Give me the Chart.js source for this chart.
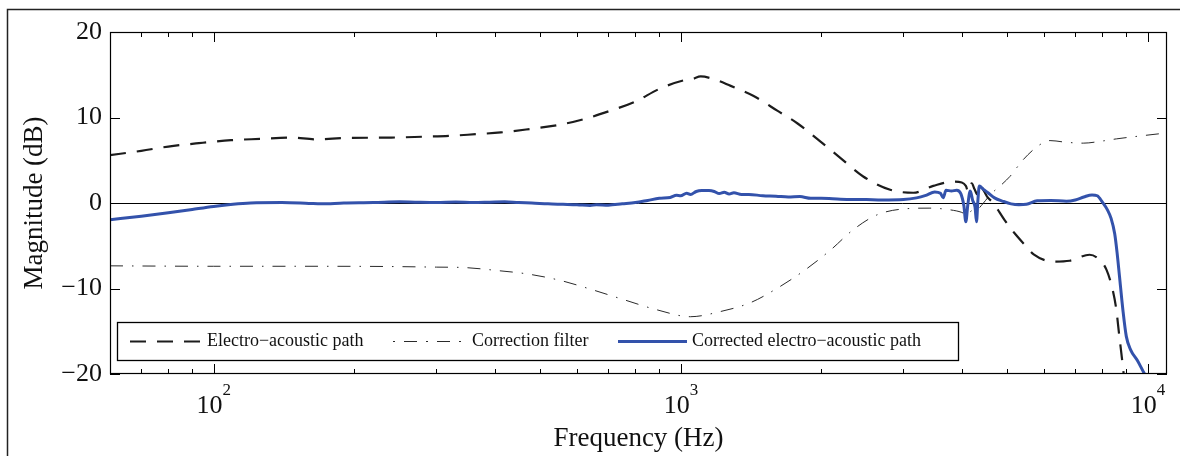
<!DOCTYPE html>
<html><head><meta charset="utf-8">
<script src="https://cdn.jsdelivr.net/npm/chart.js@4/dist/chart.umd.min.js"></script>
<style>html,body{margin:0;padding:0;background:#fff;}#wrap{width:1180px;height:456px;}</style>
</head><body><div id="wrap"><canvas id="c" width="1180" height="456"></canvas></div>
<script>
// ---- data ----
const freqEA = [60,70,80,93,109,126,147,165,192,240,280,320,364,412,475,545,620,708,795,905,1016,1060,1104,1160,1280,1430,1610,1780,1990,2200,2460,2810,3150,3475,3830,4000,4080,4130,4200,4260,4320,4370,4450,4530,4670,4940,5200,5500,5700,6270,6810,7510,7890,8160,8420,8570,8680,8780,8880,9000,9200];
const magEA  = [5.6,6.1,6.6,7.0,7.35,7.5,7.65,7.45,7.6,7.65,7.75,7.85,8.05,8.25,8.65,9.1,9.8,10.8,11.8,13.4,14.35,14.5,14.8,14.6,13.7,12.55,10.8,9.3,7.2,5.25,3.1,1.55,1.2,2.0,2.5,2.4,2.0,1.3,2.3,1.6,1.0,2.1,1.5,0.75,0.0,-2.0,-3.6,-5.1,-6.0,-6.85,-6.75,-6.05,-6.65,-7.8,-10.2,-12.5,-15.2,-17.5,-19.9,-23,-27];

const freqCF = [60,100,150,238,300,344,405,470,554,652,755,891,1050,1216,1412,1610,1850,2094,2345,2630,2995,3418,3775,4000,4100,4200,4305,4450,4600,4900,5070,5410,5870,6180,6700,7280,8000,8570,9500,11000];
const magCF  = [-7.35,-7.4,-7.4,-7.43,-7.5,-7.55,-7.9,-8.3,-9.07,-10.2,-11.3,-12.5,-13.3,-12.7,-11.65,-9.97,-7.8,-5.5,-3.1,-1.4,-0.7,-0.6,-0.8,-1.1,-1.4,-0.9,-0.8,0.0,0.95,2.3,3.1,5.05,6.8,7.3,7.1,7.0,7.25,7.5,7.8,8.2];

const freqCorr = [60,70,80,90,100,110,120,140,160,170,190,220,250,270,300,330,360,390,420,450,480,520,560,600,640,660,700,750,800,850,900,950,980,1000,1030,1050,1080,1110,1150,1180,1210,1240,1270,1300,1350,1400,1500,1600,1700,1800,1900,2000,2200,2500,2700,3000,3200,3350,3500,3600,3650,3700,3800,3900,3980,4040,4080,4120,4170,4220,4270,4300,4330,4360,4450,4550,4700,4900,5100,5300,5500,5800,6200,6700,7000,7300,7600,7800,8000,8200,8350,8500,8600,8700,8850,9000,9200,9500,9850,10100];
const magCorr  = [-1.95,-1.55,-1.15,-0.75,-0.4,-0.15,0.0,0.05,-0.05,-0.1,0.0,0.05,0.15,0.1,0.05,0.12,0.05,0.1,0.15,0.05,0.0,-0.1,-0.15,-0.2,-0.3,-0.2,-0.25,-0.1,0.05,0.3,0.55,0.65,0.9,0.85,1.15,1.0,1.35,1.45,1.45,1.35,1.1,1.25,1.05,1.2,1.0,1.0,0.85,0.8,0.7,0.75,0.55,0.55,0.45,0.4,0.35,0.4,0.6,0.9,1.3,1.15,0.6,1.5,1.4,1.5,1.1,-0.3,-2.2,-0.2,1.4,0.3,-0.5,-2.2,0.3,2.0,1.6,1.2,0.6,0.2,-0.1,-0.2,-0.15,0.25,0.3,0.2,0.35,0.7,0.95,0.85,0.1,-0.8,-1.8,-3.6,-5.8,-8.5,-12.5,-15.6,-17.2,-18.4,-20,-21];

const yTicks = [-20,-10,0,10,20];
const yTickLabels = ['\u221220','\u221210','0','10','20'];
const xMajorTicks = [100,1000,10000];
const xTickBase = ['10','10','10'];
const xTickExp = ['2','3','4'];
const seriesNames = ['Electro\u2212acoustic path','Correction filter','Corrected electro\u2212acoustic path'];
const xTitle = 'Frequency (Hz)';
const yTitle = 'Magnitude (dB)';

// ---- styles ----
const SERIF = "'Liberation Serif','Times New Roman',serif";
const colEA = '#1c1c1c', colCF = '#2a2a2a', colCorr = '#3352ab';
const dashEA = [16,11], dashCF = [13,9,1.5,9];

const toPts = (f,m) => f.map((x,i) => ({x:x, y:m[i]}));

const deco = {
  id:'deco',
  beforeDraw(chart){
    const c = chart.ctx; c.save();
    c.fillStyle='#fff'; c.fillRect(0,0,chart.width,chart.height);
    c.strokeStyle='#222'; c.lineWidth=1.5;
    c.beginPath(); c.moveTo(7.5,456); c.lineTo(7.5,9.5); c.lineTo(1180,9.5); c.stroke();
    c.restore();
  },
  beforeDatasetsDraw(chart){
    const c = chart.ctx, a = chart.chartArea, ys = chart.scales.y;
    c.save(); c.strokeStyle='#000'; c.lineWidth=1;
    const y0 = Math.round(ys.getPixelForValue(0))+0.5;
    c.beginPath(); c.moveTo(a.left,y0); c.lineTo(a.right,y0); c.stroke();
    c.restore();
  },
  afterDatasetsDraw(chart){
    const c = chart.ctx, a = chart.chartArea, xs = chart.scales.x, ys = chart.scales.y;
    c.save();
    c.strokeStyle='#000'; c.lineWidth=1.2;
    c.strokeRect(a.left+0.5, a.top+0.5, a.right-a.left-1, a.bottom-a.top-1);
    c.lineWidth=1;
    // x ticks
    const decades=[10,100,1000,10000];
    c.beginPath();
    decades.forEach(d=>{
      for(let k=1;k<=9;k++){
        const v=d*k; if(v<xs.min||v>xs.max) continue;
        const px=Math.round(xs.getPixelForValue(v))+0.5;
        const L = (k===1)?10:5;
        c.moveTo(px,a.bottom); c.lineTo(px,a.bottom-L);
        c.moveTo(px,a.top); c.lineTo(px,a.top+L);
      }
    });
    yTicks.forEach(v=>{
      const py=Math.round(ys.getPixelForValue(v))+0.5;
      c.moveTo(a.left,py); c.lineTo(a.left+10,py);
      c.moveTo(a.right,py); c.lineTo(a.right-10,py);
    });
    c.stroke();
    // labels
    c.fillStyle='#111';
    c.font='26px '+SERIF; c.textAlign='right'; c.textBaseline='middle';
    yTicks.forEach((v,i)=>{ c.fillText(yTickLabels[i], a.left-8, ys.getPixelForValue(v)); });
    c.textBaseline='alphabetic';
    xMajorTicks.forEach((v,i)=>{
      const px=xs.getPixelForValue(v);
      c.font='26px '+SERIF; c.textAlign='right'; c.fillText(xTickBase[i], px+9, 413);
      c.font='17px '+SERIF; c.textAlign='left'; c.fillText(xTickExp[i], px+9, 395);
    });
    c.font='27px '+SERIF; c.textAlign='center';
    c.fillText(xTitle, (a.left+a.right)/2, 446);
    c.save(); c.translate(35,(a.top+a.bottom)/2); c.rotate(-Math.PI/2);
    c.textBaseline='middle'; c.fillText(yTitle,0,0); c.restore();
    // legend
    c.fillStyle='#fff'; c.fillRect(117,322,841,38);
    c.strokeStyle='#000'; c.lineWidth=1.3; c.strokeRect(117.5,322.5,841,38);
    const ly=341.5;
    c.lineWidth=2.2; c.strokeStyle=colEA; c.setLineDash(dashEA);
    c.beginPath(); c.moveTo(130,ly); c.lineTo(200,ly); c.stroke();
    c.lineWidth=1; c.strokeStyle=colCF; c.setLineDash([2,9,13,9]);
    c.beginPath(); c.moveTo(393,ly); c.lineTo(467,ly); c.stroke();
    c.setLineDash([]); c.lineWidth=3; c.strokeStyle=colCorr;
    c.beginPath(); c.moveTo(618,ly); c.lineTo(687,ly); c.stroke();
    c.fillStyle='#111'; c.font='18px '+SERIF; c.textAlign='left'; c.textBaseline='middle';
    c.fillText(seriesNames[0],207,ly);
    c.fillText(seriesNames[1],472,ly);
    c.fillText(seriesNames[2],692,ly);
    c.restore();
  }
};

new Chart(document.getElementById('c').getContext('2d'), {
  type:'line',
  data:{datasets:[
    {label:seriesNames[0], data:toPts(freqEA,magEA), borderColor:colEA, borderWidth:2.2, borderDash:dashEA, pointRadius:0, cubicInterpolationMode:'monotone', fill:false, order:1},
    {label:seriesNames[1], data:toPts(freqCF,magCF), borderColor:colCF, borderWidth:1, borderDash:dashCF, pointRadius:0, cubicInterpolationMode:'monotone', fill:false, order:2},
    {label:seriesNames[2], data:toPts(freqCorr,magCorr), borderColor:colCorr, borderWidth:3, pointRadius:0, cubicInterpolationMode:'monotone', fill:false, order:0}
  ]},
  options:{
    responsive:false, animation:false, devicePixelRatio:1,
    layout:{padding:{top:32,right:13,left:0,bottom:0}},
    plugins:{legend:{display:false}, tooltip:{enabled:false}},
    scales:{
      x:{type:'logarithmic', min:60, max:11000, grid:{display:false}, border:{display:false}, ticks:{display:false}, afterFit(s){s.height=82;}},
      y:{type:'linear', min:-20, max:20, grid:{display:false}, border:{display:false}, ticks:{display:false}, afterFit(s){s.width=110;}}
    }
  },
  plugins:[deco]
});
</script></body></html>
